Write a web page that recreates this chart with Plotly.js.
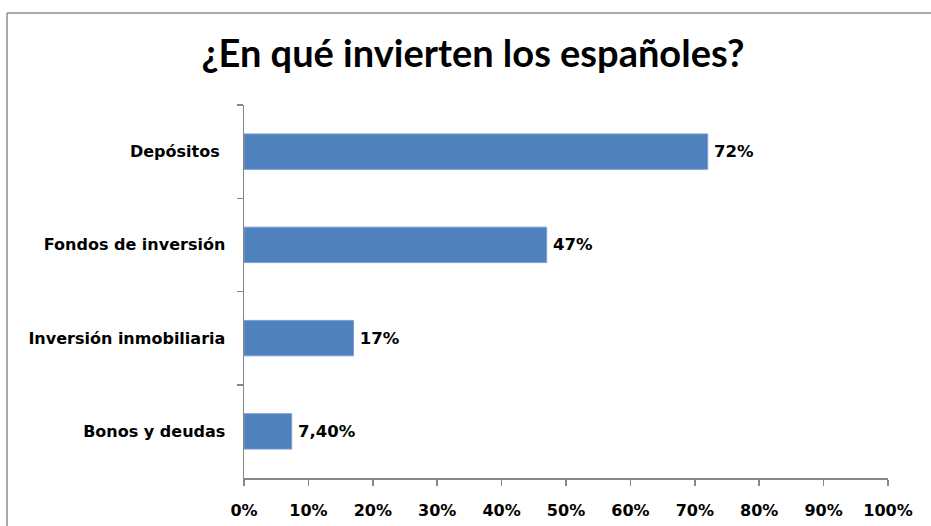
<!DOCTYPE html>
<html>
<head>
<meta charset="utf-8">
<script src="https://cdn.plot.ly/plotly-3.0.1.min.js"></script>
<style>
html,body{margin:0;padding:0;background:#fff;}
#chart{width:931px;height:526px;}
</style>
</head>
<body>
<div id="chart"></div>
<script>
var categories = ["Depósitos ", "Fondos de inversión", "Inversión inmobiliaria", "Bonos y deudas"];
var values = [0.72, 0.47, 0.17, 0.074];
var valueLabels = ["72%", "47%", "17%", "7,40%"];
var xTickValues = [0, 0.1, 0.2, 0.3, 0.4, 0.5, 0.6, 0.7, 0.8, 0.9, 1.0];
var xTickLabels = ["0%", "10%", "20%", "30%", "40%", "50%", "60%", "70%", "80%", "90%", "100%"];
var chartTitle = "¿En qué invierten los españoles?";

var fontFamily = "DejaVu Sans, Verdana, sans-serif";
var axisGrey = "#868686";

var trace = {
  type: "bar",
  orientation: "h",
  y: categories,
  x: values,
  text: valueLabels,
  texttemplate: "\u2009%{text}",
  textposition: "outside",
  cliponaxis: false,
  textfont: {family: fontFamily, size: 16.5, color: "#000", weight: "bold"},
  marker: {color: "#4F81BD", line: {color: "#7A9FCF", width: 1}},
  hoverinfo: "skip"
};

var layout = {
  width: 931,
  height: 526,
  margin: {l: 244, r: 43, t: 105, b: 48},
  paper_bgcolor: "#fff",
  plot_bgcolor: "#fff",
  showlegend: false,
  bargap: 0.62,
  title: {
    text: "<b>" + chartTitle + "</b>",
    font: {family: "Lato, Open Sans, sans-serif", size: 38, color: "#000"},
    x: 0.508, xref: "container", xanchor: "center",
    y: 1 - 54 / 526, yref: "container", yanchor: "middle"
  },
  xaxis: {
    range: [0, 1],
    tickmode: "array",
    tickvals: xTickValues,
    ticktext: xTickLabels,
    showgrid: false,
    zeroline: false,
    showline: true,
    linecolor: axisGrey,
    linewidth: 1.5,
    ticks: "outside",
    ticklen: 6,
    tickwidth: 1.5,
    tickcolor: axisGrey,
    ticklabelstandoff: 11,
    tickfont: {family: fontFamily, size: 16, color: "#000", weight: "bold"},
    fixedrange: true
  },
  yaxis: {
    type: "category",
    autorange: "reversed",
    showgrid: false,
    zeroline: false,
    showline: true,
    linecolor: axisGrey,
    linewidth: 1.5,
    ticks: "outside",
    tickson: "boundaries",
    ticklen: 6,
    tickwidth: 1.5,
    tickcolor: axisGrey,
    ticklabelstandoff: 14,
    tickfont: {family: fontFamily, size: 16, color: "#000", weight: "bold"},
    fixedrange: true
  },
  shapes: [
    {type: "line", xref: "paper", yref: "paper",
     x0: (7 - 244) / 644, x1: (7 - 244) / 644,
     y0: (478 - 13) / 373, y1: (478 - 540) / 373,
     line: {color: "#8c8c8c", width: 1.5}},
    {type: "line", xref: "paper", yref: "paper",
     x0: (7 - 244) / 644, x1: (940 - 244) / 644,
     y0: (478 - 13) / 373, y1: (478 - 13) / 373,
     line: {color: "#8c8c8c", width: 1.5}}
  ]
};

Plotly.newPlot("chart", [trace], layout, {displayModeBar: false, staticPlot: true});
</script>
</body>
</html>
